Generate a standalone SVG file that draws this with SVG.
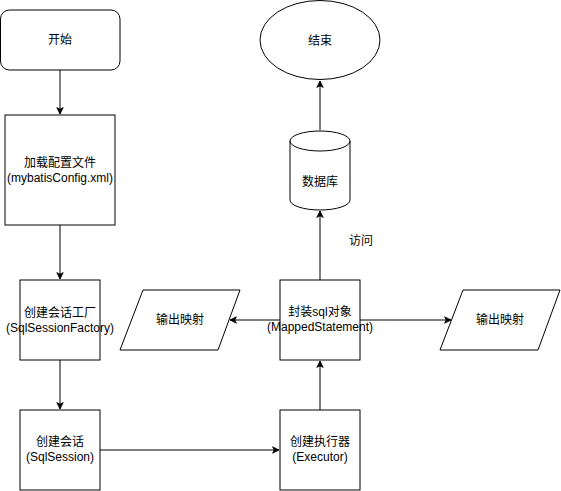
<svg xmlns="http://www.w3.org/2000/svg" width="561" height="491" viewBox="0 0 561 491">
<defs>
<marker id="arr" viewBox="0 0 10 10" refX="9" refY="5" markerWidth="8" markerHeight="8" markerUnits="userSpaceOnUse" orient="auto">
<path d="M1,1 L9,5 L1,9 L3,5 z" fill="#000" stroke="#000" stroke-width="1"/>
</marker>
</defs>
<style>
.s{fill:#fff;stroke:#000;stroke-width:1}
.t{font-family:"Liberation Sans","Noto Sans CJK SC",sans-serif;font-size:12px;fill:#000;text-anchor:middle;dominant-baseline:central}
.c{fill:none;stroke:#000;stroke-width:1;marker-end:url(#arr)}
</style>
<rect width="561" height="491" fill="#fff"/>
<g id="connectors">
<path class="c" d="M60,70 L60,114"/>
<path class="c" d="M60,225 L60,279"/>
<path class="c" d="M60,360 L60,409"/>
<path class="c" d="M100,450 L279,450"/>
<path class="c" d="M320,410 L320,361"/>
<path class="c" d="M320,280 L320,211"/>
<path class="c" d="M320,130 L320,81"/>
<path class="c" d="M280,320 L230,320"/>
<path class="c" d="M360,320 L451,320"/>
<text class="t" x="361" y="241">访问</text>
</g>
<g id="start">
<rect class="s" x="0.5" y="10" width="119.5" height="60" rx="9" ry="9"/>
<text class="t" x="60" y="40">开始</text>
</g>
<g id="loadConfig">
<rect class="s" x="5" y="115" width="110" height="110"/>
<text class="t" x="60" y="163">加载配置文件</text>
<text class="t" x="60" y="178">(mybatisConfig.xml)</text>
</g>
<g id="factory">
<rect class="s" x="20" y="280" width="80" height="80"/>
<text class="t" x="60" y="313">创建会话工厂</text>
<text class="t" x="60" y="328">(SqlSessionFactory)</text>
</g>
<g id="session">
<rect class="s" x="20" y="410" width="80" height="80"/>
<text class="t" x="60" y="442">创建会话</text>
<text class="t" x="60" y="457">(SqlSession)</text>
</g>
<g id="executor">
<rect class="s" x="280" y="410" width="80" height="80"/>
<text class="t" x="320" y="442">创建执行器</text>
<text class="t" x="320" y="457">(Executor)</text>
</g>
<g id="mappedStatement">
<rect class="s" x="280" y="280" width="80" height="80"/>
<text class="t" x="320" y="312">封装sql对象</text>
<text class="t" x="320" y="327">(MappedStatement)</text>
</g>
<g id="outputLeft">
<path class="s" d="M143,290 L240,290 L218,350 L120,350 Z"/>
<text class="t" x="180" y="320">输出映射</text>
</g>
<g id="outputRight">
<path class="s" d="M463,290 L560,290 L538,350 L440,350 Z"/>
<text class="t" x="500" y="320">输出映射</text>
</g>
<g id="database">
<path class="s" d="M290,141 A30,10 0 0 1 350,141 L350,200 A30,10 0 0 1 290,200 Z"/>
<path d="M290,141 A30,10 0 0 0 350,141" fill="none" stroke="#000" stroke-width="1"/>
<text class="t" x="320" y="182">数据库</text>
</g>
<g id="end">
<ellipse class="s" cx="320" cy="40" rx="60" ry="39.5"/>
<text class="t" x="320" y="41">结束</text>
</g>
</svg>
